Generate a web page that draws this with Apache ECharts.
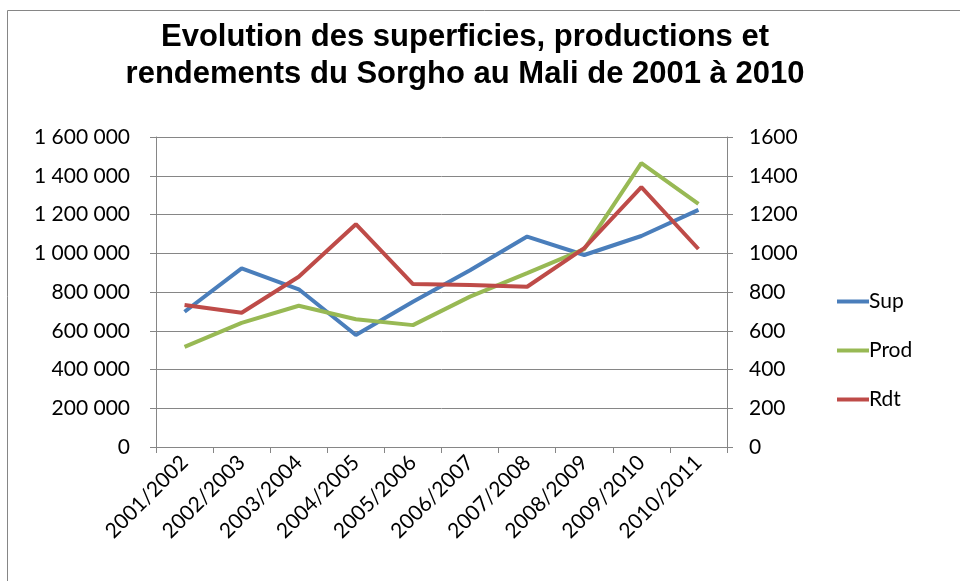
<!DOCTYPE html>
<html>
<head>
<meta charset="utf-8">
<script src="https://cdn.jsdelivr.net/npm/echarts@6/dist/echarts.min.js"></script>
<style>
  html, body { margin: 0; padding: 0; background: #fff; }
  #chart { width: 960px; height: 581px; }
</style>
</head>
<body>
<div id="chart"></div>
<script>
// campagnes agricoles
const campagnes = ['2001/2002', '2002/2003', '2003/2004', '2004/2005', '2005/2006',
  '2006/2007', '2007/2008', '2008/2009', '2009/2010', '2010/2011'];
// superficies (ha)
const sup = [698000, 922000, 814000, 578000, 750000, 912000, 1086000, 991000, 1089000, 1224000];
// productions (t)
const prod = [517000, 641000, 729000, 659000, 629000, 776000, 897000, 1021000, 1465000, 1255000];
// rendements (kg/ha)
const rdt = [733, 693, 879, 1150, 841, 836, 827, 1026, 1341, 1022];

const chart = echarts.init(document.getElementById('chart'));

const gris = '#868686';
const police = 'Lato';

// 1600000 -> "1 600 000"
function espaces(v) {
  return String(v).replace(/\B(?=(\d{3})+(?!\d))/g, ' ');
}

chart.setOption({
  animation: false,
  title: {
    text: 'Evolution des superficies, productions et\nrendements du Sorgho au Mali de 2001 à 2010',
    left: 460,
    textAlign: 'center',
    top: 14,
    textStyle: {
      fontFamily: 'Liberation Sans',
      fontWeight: 'bold',
      fontSize: 31,
      lineHeight: 37,
      color: '#000'
    }
  },
  // cadre du graphique
  graphic: [{
    type: 'rect',
    shape: { x: 7.5, y: 10.5, width: 1000, height: 1000 },
    style: { fill: 'none', stroke: gris, lineWidth: 1 }
  }],
  legend: {
    orient: 'vertical',
    left: 832,
    top: 286,
    itemWidth: 32,
    itemHeight: 4,
    itemGap: 28,
    icon: 'rect',
    textStyle: { fontFamily: police, fontSize: 21, color: '#000', padding: [0, 0, 0, -5] },
    data: ['Sup', 'Prod', 'Rdt']
  },
  grid: { left: 156, right: 233, top: 137, bottom: 134 },
  xAxis: {
    type: 'category',
    data: campagnes,
    boundaryGap: true,
    axisLine: { lineStyle: { color: gris, width: 1 } },
    axisTick: { show: true, length: 6, lineStyle: { color: gris } },
    axisLabel: {
      rotate: 45,
      margin: 12,
      fontFamily: police,
      fontSize: 21,
      color: '#000'
    }
  },
  yAxis: [{
    type: 'value',
    min: 0,
    max: 1600000,
    interval: 200000,
    axisLine: { show: true, lineStyle: { color: gris } },
    axisTick: { show: true, inside: false, length: 6, lineStyle: { color: gris } },
    splitLine: { lineStyle: { color: gris, width: 1 } },
    axisLabel: {
      formatter: espaces,
      margin: 26,
      fontFamily: police,
      fontSize: 21,
      color: '#000'
    }
  }, {
    type: 'value',
    min: 0,
    max: 1600,
    interval: 200,
    position: 'right',
    axisLine: { show: true, lineStyle: { color: gris } },
    axisTick: { show: true, length: 6, lineStyle: { color: gris } },
    splitLine: { show: false },
    axisLabel: {
      formatter: function (v) { return String(v); },
      margin: 22,
      fontFamily: police,
      fontSize: 21,
      color: '#000'
    }
  }],
  series: [{
    name: 'Sup',
    type: 'line',
    data: sup,
    yAxisIndex: 0,
    symbol: 'none',
    itemStyle: { color: '#4a7ebb' },
    lineStyle: { color: '#4a7ebb', width: 4 }
  }, {
    name: 'Prod',
    type: 'line',
    data: prod,
    yAxisIndex: 0,
    symbol: 'none',
    itemStyle: { color: '#98b954' },
    lineStyle: { color: '#98b954', width: 4 }
  }, {
    name: 'Rdt',
    type: 'line',
    data: rdt,
    yAxisIndex: 1,
    symbol: 'none',
    itemStyle: { color: '#be4b48' },
    lineStyle: { color: '#be4b48', width: 4 }
  }]
});
</script>
</body>
</html>
